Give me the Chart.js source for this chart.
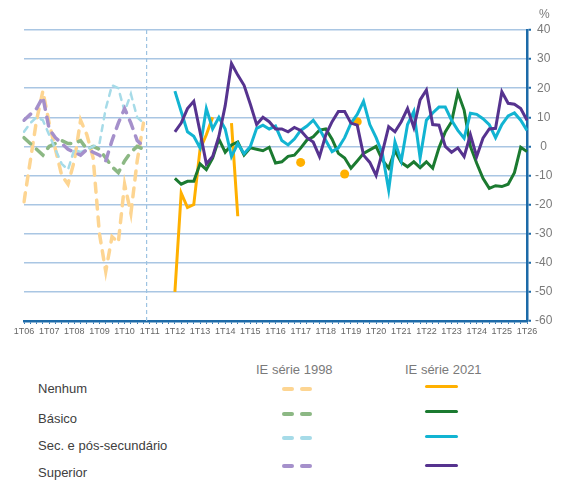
<!DOCTYPE html>
<html>
<head>
<meta charset="utf-8">
<script src="https://cdn.jsdelivr.net/npm/chart.js@4.4.1/dist/chart.umd.min.js"></script>
<style>
  html, body { margin: 0; padding: 0; background: #fff; }
  body { width: 566px; height: 481px; position: relative; overflow: hidden; font-family: "Liberation Sans", Arial, sans-serif; }
  #grafica { position: absolute; left: 0; top: 0; }
  .pct { position: absolute; left: 539px; top: 7px; font-size: 12px; color: #7a7a7a; }
  .cab { position: absolute; top: 362px; font-size: 13px; color: #7a7a7a; }
  .nome { position: absolute; left: 38px; font-size: 13px; color: #404040; line-height: 16px; }
  .traco { position: absolute; width: 12px; height: 4px; border-radius: 2px; }
  .linha { position: absolute; left: 425px; width: 33px; height: 3px; border-radius: 2px; }
</style>
</head>
<body>
<canvas id="grafica" width="566" height="345"></canvas>
<div class="pct">%</div>
<div class="cab" style="left:256px">IE série 1998</div>
<div class="cab" style="left:405px">IE série 2021</div>
<div id="legenda"></div>
<script>
// trimestres 1T06 .. 1T26
const trimestres = [];
for (let a = 6; a <= 26; a++) {
  for (let q = 1; q <= 4; q++) {
    if (a === 26 && q > 1) break;
    trimestres.push(q + 'T' + String(a).padStart(2, '0'));
  }
}

const categorias = ['Nenhum', 'Básico', 'Sec. e pós-secundário', 'Superior'];

// IE série 1998: 1T06 .. 4T10
const nenhum1998 = [-19, -5, 9, 19, 8, -1, -10, -13, -5, 9, 4, -4, -30, -43, -31, -33, -13, -23, -5, 8];
const basico1998 = [3, 1, -1, -3, 0, 1, 2, 1, 1, 2, -1, 0, -1, -4, -7, -9, -5, -2, 0, -1];
const secundario1998 = [5, 8, 10, 9, 4, -1, -6, -8, -1, -2, -1, 0, 1, 13, 21, 20, 12, 18, 10, 8];
const superior1998 = [9, 11, 13, 17, 6, 3, 1, -1, -2, -3, -1, -2, -3, -5, 2, 8, 13, 8, 2, 0];

// IE série 2021: 1T12 .. 1T26
const nenhum2021 = [-50, -16, -21, -20, -1, 4, 10, null, null, 8, -24,
  null, null, null, null, null, null, null, null, null, -5.5,
  null, null, null, null, null, null, -9.5, null, 8.5,
  null, null, null, null, null, null, null, null, null, null,
  null, null, null, null, null, null, null, null, null, null,
  null, null, null, null, null, null, null];
const basico2021 = [-11, -13, -12, -12, -6, -8, -4, 2.5, -2, 0.5, 1.5,
  -3, -0.5, -1, -1.5, -0.3, -5.7, -5.3, -3.4, -3, -0.6,
  2.2, 3.3, 5.6, 6, 2.5, -2.4, -4, -7.5, -5, -2.4,
  -1.2, 0, -4.7, -7.5, -1.5, -5.5, -7, -5.3, -7.3, -5.3,
  -7.5, -0.5, 5, 8.5, 18.5, 12.5, 0, -5.8, -11, -14.4,
  -13.5, -13.8, -13, -9, -0.3, -1.8];
const secundario2021 = [19, 12, 5, 3.5, -0.5, 13, 6, 10, 6, -3.5, 1,
  -2.5, 0, 6.2, 7.3, 6, 7, 2, 0.5, 2.5, 5.5,
  7, 9, 6, 2, -1.8, -0.5, 3, 8, 11, 15.5,
  7.5, 3, -2.5, -15, 1.5, -5, 7.5, 12, -4, 9,
  11.5, 13.5, 13.5, 9, 5.5, 2.8, 11.4, 11, 9.5, 7.5,
  3, 7.5, 10.5, 11.5, 9, 5.5];
const superior2021 = [5, 8, 13, 15.5, 5, -6, -3.5, 3.5, 14, 28.5, 24.5,
  21, 14.5, 7.5, 10, 8.5, 6, 6, 5, 6.5, 5.5,
  3, 1.5, -3.5, 4, 8.5, 12, 12, 8, 7.3, -3,
  -5.5, -10, -2, 6.8, 5, 8.5, 13, 6.5, 16, 19.4,
  7.5, 7.3, 0, -2, -0.5, -3.5, 4, -3.5, 2.8, 6,
  6.2, 18.8, 14.8, 14.5, 13, 9];

const cores1998 = ['#fdd592', '#8cb884', '#a6dbe8', '#a590cb'];
const cores2021 = ['#ffb000', '#1b7a30', '#12b4d2', '#56338f'];

function serie1998(v) {
  return trimestres.map((t, i) => i < v.length ? v[i] : null);
}

function serie2021(v) {
  return trimestres.map((t, i) => i >= 24 ? v[i - 24] : null);
}

// ponto isolado: sem vizinhos, desenhar como bolinha
function raioIsolado(ctx) {
  const d = ctx.dataset.data;
  const i = ctx.dataIndex;
  return d[i] != null && d[i - 1] == null && d[i + 1] == null ? 4.5 : 0;
}

const valores1998 = [nenhum1998, basico1998, secundario1998, superior1998];
const valores2021 = [nenhum2021, basico2021, secundario2021, superior2021];

const datasets = [];
valores2021.forEach((v, k) => {
  datasets.push({
    label: categorias[k] + ' 2021',
    data: serie2021(v),
    borderColor: cores2021[k],
    backgroundColor: cores2021[k],
    borderWidth: 3,
    pointRadius: raioIsolado,
    pointBorderWidth: 0,
    order: 4 - k,
    tension: 0
  });
});
valores1998.forEach((v, k) => {
  datasets.push({
    label: categorias[k] + ' 1998',
    data: serie1998(v),
    borderColor: cores1998[k],
    backgroundColor: cores1998[k],
    borderWidth: k === 2 ? 2.5 : 3.5,
    borderDash: k === 2 ? [6, 6] : [9, 8],
    borderCapStyle: 'round',
    pointRadius: 0,
    order: 9 - k,
    tension: 0
  });
});

const separador = {
  id: 'separador',
  beforeDatasetsDraw(chart) {
    const x = chart.scales.x.getPixelForValue(19.5);
    const area = chart.chartArea;
    const c = chart.ctx;
    c.save();
    c.strokeStyle = '#9dc3e2';
    c.lineWidth = 1.2;
    c.setLineDash([4, 3]);
    c.beginPath();
    c.moveTo(x, area.top);
    c.lineTo(x, area.bottom);
    c.stroke();
    c.restore();
  }
};

Chart.defaults.font.family = '"Liberation Sans", Arial, sans-serif';

new Chart(document.getElementById('grafica'), {
  type: 'line',
  data: { labels: trimestres, datasets: datasets },
  options: {
    responsive: false,
    animation: false,
    devicePixelRatio: 1,
    layout: { padding: { left: 24, top: 30, right: 0, bottom: 0 } },
    plugins: { legend: { display: false }, tooltip: { enabled: false } },
    scales: {
      x: {
        type: 'category',
        offset: false,
        grid: { drawOnChartArea: false, drawTicks: true, tickLength: 3, tickColor: '#2f75b5', tickWidth: 1 },
        border: { color: '#1c6aa8', width: 2.5 },
        ticks: {
          autoSkip: false,
          maxRotation: 0,
          minRotation: 0,
          padding: 2,
          color: '#666666',
          font: { size: 9 },
          callback: function (v, i) { return i % 4 === 0 ? this.getLabelForValue(v) : ''; }
        },
        afterFit: s => { s.height = 24; }
      },
      y: {
        position: 'right',
        min: -60,
        max: 40,
        ticks: { stepSize: 10, color: '#7a7a7a', font: { size: 12 }, padding: 4, crossAlign: 'center' },
        grid: { color: '#a9c6e3', lineWidth: 1.5, tickColor: '#1c6aa8', tickLength: 4, tickWidth: 2 },
        border: { color: '#1c6aa8', width: 2.5 },
        afterFit: s => { s.width = 39; }
      }
    }
  },
  plugins: [separador]
});

// legenda em duas colunas
const yTexto = [381, 411, 438, 465];
const yTraco = [387, 412, 436, 464];
const yLinha = [385, 410, 435, 464];
const legenda = document.getElementById('legenda');
categorias.forEach((nome, k) => {
  legenda.insertAdjacentHTML('beforeend',
    `<div class="nome" style="top:${yTexto[k]}px">${nome}</div>` +
    `<div class="traco" style="left:282px;top:${yTraco[k]}px;background:${cores1998[k]}"></div>` +
    `<div class="traco" style="left:300px;top:${yTraco[k]}px;background:${cores1998[k]}"></div>` +
    `<div class="linha" style="top:${yLinha[k]}px;background:${cores2021[k]}"></div>`);
});
</script>
</body>
</html>
